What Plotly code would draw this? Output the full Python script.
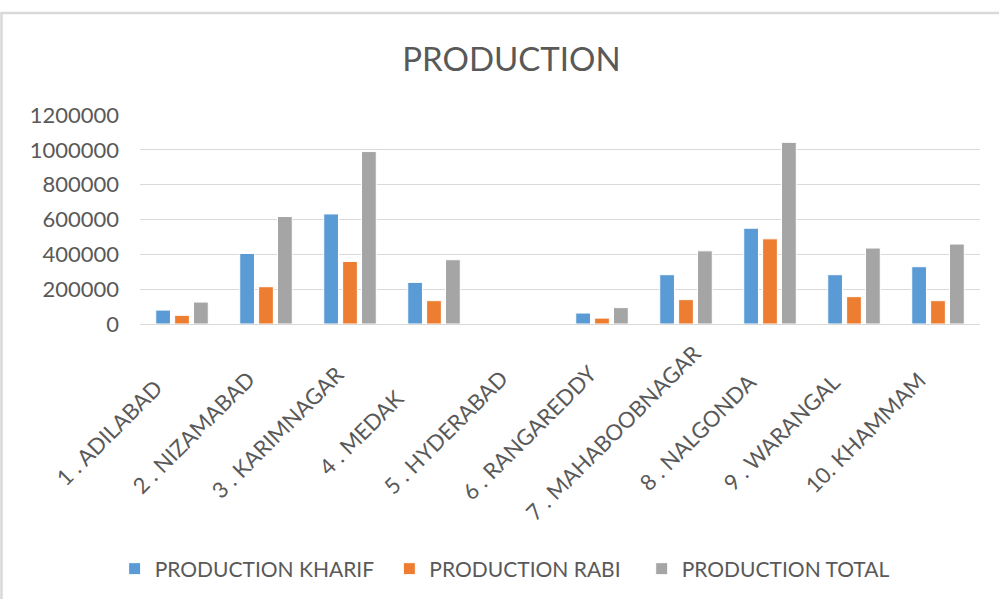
import plotly.graph_objects as go

districts = ["1 . ADILABAD", "2 . NIZAMABAD", "3 . KARIMNAGAR", "4 . MEDAK", "5 . HYDERABAD",
             "6 . RANGAREDDY", "7 . MAHABOOBNAGAR", "8 . NALGONDA", "9 . WARANGAL", "10. KHAMMAM"]
kharif = [80000, 405000, 632000, 239000, 0, 63000, 283000, 550000, 283000, 329000]
rabi = [50000, 214000, 359000, 134000, 0, 34000, 140000, 489000, 157000, 134000]
total = [126000, 617000, 990000, 369000, 0, 94000, 420000, 1043000, 436000, 459000]
y_ticks = [0, 200000, 400000, 600000, 800000, 1000000, 1200000]

FONT = "Lato"
TXT = "#595959"

fig = go.Figure()
for name, vals, col in [("PRODUCTION KHARIF" + "\u00a0" * 2, kharif, "#5B9BD5"),
                        ("PRODUCTION RABI" + "\u00a0" * 3, rabi, "#ED7D31"),
                        ("PRODUCTION TOTAL", total, "#A5A5A5")]:
    fig.add_trace(go.Bar(x=districts, y=vals, name=name,
                         marker=dict(color=col, line=dict(color="white", width=1))))

# category labels, rotated about their centre like the spreadsheet chart
for d in districts:
    fig.add_annotation(x=d, xref="x", xshift=-73, y=-0.52, yref="paper",
                       text=d, textangle=-45, showarrow=False,
                       xanchor="center", yanchor="middle",
                       font=dict(family=FONT, size=22, color=TXT))

fig.update_layout(
    width=999, height=599, autosize=False,
    margin=dict(l=140, r=19, t=115, b=274),
    paper_bgcolor="white", plot_bgcolor="white",
    barmode="group", bargap=0.325, bargroupgap=0.22,
    title=dict(text="PRODUCTION", x=0.512, xanchor="center", xref="container",
               y=1 - 59 / 599, yanchor="middle", yref="container",
               font=dict(family=FONT, size=33, color=TXT)),
    font=dict(family=FONT, color=TXT),
    xaxis=dict(type="category", categoryorder="array", categoryarray=districts,
               range=[-0.5, len(districts) - 0.5], autorange=False,
               showticklabels=False, showgrid=False, showline=False, ticks="",
               automargin=False),
    yaxis=dict(range=[0, 1200000], autorange=False, tickvals=y_ticks,
               ticktext=[str(v) for v in y_ticks],
               tickfont=dict(family=FONT, size=22, color=TXT), ticklabelstandoff=20,
               showgrid=True, gridcolor="#D9D9D9", gridwidth=1,
               zeroline=True, zerolinecolor="#D9D9D9", zerolinewidth=1,
               showline=False, ticks="", automargin=False),
    legend=dict(orientation="h", x=-0.0302, xanchor="left", y=-1.162, yanchor="middle",
                font=dict(family=FONT, size=21, color=TXT), traceorder="normal"),
    shapes=[dict(type="rect", xref="paper", yref="paper",
                 x0=-0.1649, x1=2.0, y0=-5.0, y1=1.4885,
                 line=dict(color="#D9D9D9", width=2.5), fillcolor="rgba(0,0,0,0)",
                 layer="below")],
)

fig.write_html("out.html", config={"displayModeBar": False},
               post_script="document.body.style.margin='0';")
